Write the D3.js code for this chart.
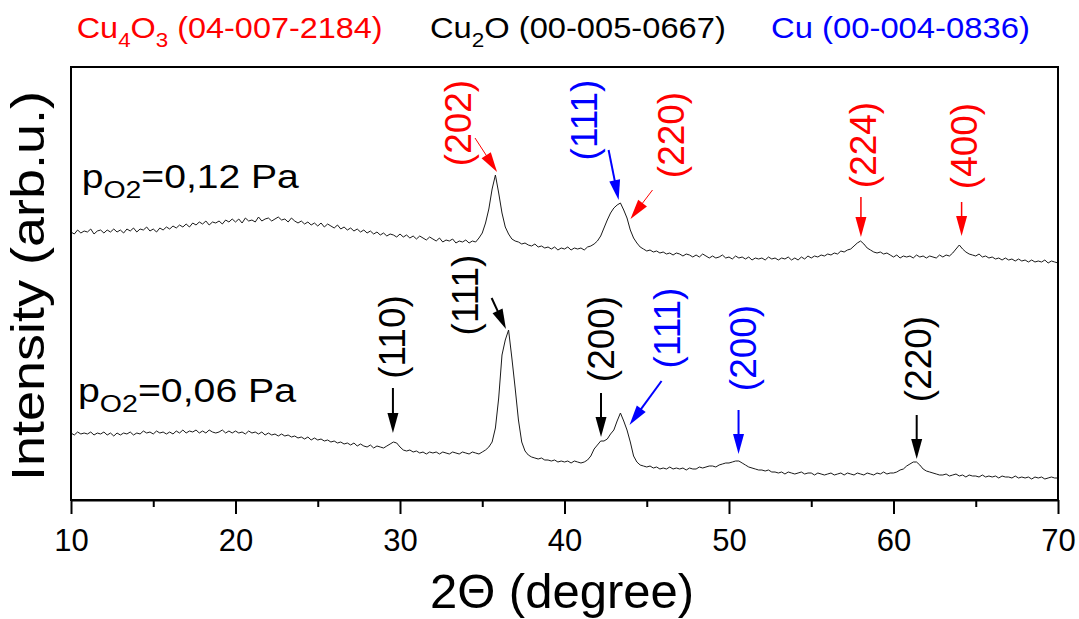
<!DOCTYPE html>
<html><head><meta charset="utf-8">
<script src="https://cdn.jsdelivr.net/npm/d3@7"></script>
<style>body{margin:0;background:#fff}svg{display:block;font-family:"Liberation Sans",Arial,sans-serif}</style>
</head><body><svg id="c" width="1079" height="619"></svg>
<script>
// ---------- DATA ----------
const twoThetaStart = 10, twoThetaStep = 0.2;   // 2Θ grid of the scans (degree)
const xTicks = [10, 20, 30, 40, 50, 60, 70];
const xMinorTicks = [15, 25, 35, 45, 55, 65];

// pO2 = 0,12 Pa scan (arb. u., offset)
const intensity012 = [
268,266,270,267,269, 268,271,266,269,270, 267,270,268,271,268, 270,267,271,269,272,
268,271,270,273,269, 271,268,272,270,273, 271,274,272,275,273, 276,273,277,275,278,
276,279,275,278,277, 279,276,280,278,281, 278,281,277,282,279, 280,278,283,279,281,
282,279,281,283,280, 281,278,282,279,277, 279,276,278,275,277, 274,277,273,276,274,
272,275,271,273,270, 272,269,271,268,270, 267,269,266,268,265, 267,264,266,265,263,
266,263,265,262,264, 261,264,262,260,263, 261,259,262,258,260, 259,261,257,259,258,
260,257,259,258,262, 267,277,291,311,325, 307,287,273,266,261, 259,258,256,257,255,
254,256,253,254,252, 253,251,253,250,252, 251,253,250,252,251, 252,250,253,254,256,
259,264,272,280,287, 292,295,297,290,282, 270,262,257,253,251, 249,250,248,249,247,
248,246,247,245,247, 246,244,246,245,243, 245,243,246,244,242, 244,242,243,245,242,
243,241,244,242,243, 241,243,240,242,241, 242,240,243,241,242, 240,242,241,243,240,
242,240,243,241,244, 242,244,243,245,244, 246,245,247,246,249, 248,250,251,254,257,
259,256,252,250,248, 247,248,246,247,245, 243,245,242,244,243, 244,242,245,243,244,
242,244,243,242,245, 243,245,244,247,251, 255,251,248,246,245, 244,246,243,244,242,
243,241,242,240,242, 240,241,239,241,239, 240,238,240,238,239, 238,240,237,239,238,
237];

// pO2 = 0,06 Pa scan (arb. u.)
const intensity006 = [
67,65,68,66,67, 66,68,65,67,66, 68,65,67,64,67, 65,67,66,68,65,
67,66,69,67,68, 66,69,67,68,66, 68,66,69,67,70, 67,69,68,70,67,
69,67,70,68,67, 68,70,67,69,67, 69,67,68,66,69, 67,68,66,68,65,
67,65,66,64,66, 64,65,63,64,62, 63,61,63,60,62, 60,61,59,60,58,
59,57,58,56,57, 55,57,54,56,54, 53,55,52,54,53, 52,54,56,58,57,
53,50,49,50,48, 49,47,48,46,48, 47,48,46,48,47, 46,48,47,46,48,
47,46,48,47,46, 48,50,53,58,72, 102,145,160,170,142, 112,80,58,49,45,
43,42,41,42,40, 40,39,40,38,39, 38,39,37,39,38, 37,38,40,44,51,
55,59,59,61,66, 70,79,87,79,70, 58,44,38,35,34, 33,34,32,33,31,
32,31,33,31,32, 31,32,30,32,31, 31,33,32,33,34, 34,33,35,36,37,
37,38,39,39,37, 35,33,32,31,30, 30,29,30,28,28, 27,28,26,28,27,
26,27,28,26,27, 27,25,27,26,25, 26,27,25,26,27, 25,27,26,25,27,
26,25,27,26,25, 27,26,28,26,27, 27,28,30,31,34, 36,38,38,35,31,
29,28,27,26,25, 25,26,24,25,26, 24,25,23,25,24, 24,23,25,23,24,
23,24,22,24,23, 23,22,24,22,23, 22,23,21,23,22, 23,21,22,23,22,
22];

const samplePressures = ["0,12 Pa", "0,06 Pa"];
const phases = ["Cu4O3", "Cu2O", "Cu"];
const phaseCards = ["(04-007-2184)", "(00-005-0667)", "(00-004-0836)"];

// peak annotations: hkl, phase, peak 2Θ
const peakHkl   = ["(202)", "(111)", "(220)", "(224)", "(400)", "(110)", "(111)", "(200)", "(111)", "(200)", "(220)"];
const peakPhase = ["Cu4O3", "Cu", "Cu4O3", "Cu4O3", "Cu4O3", "Cu2O", "Cu2O", "Cu2O", "Cu", "Cu", "Cu2O"];

// ---------- LAYOUT / STYLE ----------
const phaseColor = {Cu4O3: "#ff0000", Cu2O: "#000000", Cu: "#0000ff"};
// label centre [2Θ, I], arrow tail [2Θ, I], arrow tip [2Θ, I], arrow width
const annLayout = [
  {t: [33.53, 377], a: [34.56, 362], b: [35.9, 328], w: 1},
  {t: [41.19, 380], a: [42.68, 350], b: [43.29, 300], w: 2},
  {t: [46.52, 365], a: [45.35, 310], b: [44.01, 281], w: 1},
  {t: [58.2, 355],  a: [58.02, 303], b: [58.02, 263], w: 1.5},
  {t: [64.29, 354], a: [64.14, 298], b: [64.14, 264], w: 1.5},
  {t: [29.57, 163], a: [29.57, 112], b: [29.57, 67], w: 2},
  {t: [34.01, 205], a: [35.57, 202], b: [36.44, 171], w: 2},
  {t: [42.22, 161], a: [42.22, 107], b: [42.22, 63], w: 2},
  {t: [46.29, 172], a: [45.9, 119],  b: [43.95, 75], w: 2},
  {t: [50.91, 152], a: [50.58, 90],  b: [50.58, 46], w: 2},
  {t: [61.49, 141], a: [61.41, 85],  b: [61.41, 41], w: 2}
];

const m = {l: 71, r: 1058, t: 67, b: 500};
const x = d3.scaleLinear().domain([10, 70]).range([m.l, m.r]);
const y = d3.scaleLinear().domain([0, 433]).range([m.b, m.t]);
const svg = d3.select("#c");

// curves
const line = d3.line().x(d => x(d[0])).y(d => y(d[1]));
[intensity012, intensity006].forEach(arr => {
  const pts = arr.map((v, i) => [twoThetaStart + i * twoThetaStep, v]);
  svg.append("path").attr("d", line(pts)).attr("fill", "none")
    .attr("stroke", "#1a1a1a").attr("stroke-width", 1).attr("stroke-linejoin", "round");
});

// frame
svg.append("rect").attr("x", m.l).attr("y", m.t).attr("width", m.r - m.l).attr("height", m.b - m.t)
  .attr("fill", "none").attr("stroke", "#000").attr("stroke-width", 2);

// axis
const ax = svg.append("g").attr("transform", `translate(0,${m.b})`)
  .call(d3.axisBottom(x).tickValues(xTicks).tickSize(14).tickPadding(15).tickSizeOuter(0));
ax.select(".domain").attr("stroke-width", 2);
ax.selectAll(".tick line").attr("stroke-width", 2);
ax.selectAll(".tick text").attr("font-size", 31).attr("font-family", "Liberation Sans, Arial, sans-serif").attr("fill", "#000");
const axm = svg.append("g").attr("transform", `translate(0,${m.b})`)
  .call(d3.axisBottom(x).tickValues(xMinorTicks).tickSize(7).tickFormat(""));
axm.select(".domain").remove();
axm.selectAll(".tick line").attr("stroke-width", 2);

// axis titles
svg.append("text").attr("x", 562).attr("y", 608).attr("text-anchor", "middle")
  .attr("font-size", 49).text("2Θ (degree)");
svg.append("text").attr("transform", "translate(44,286) rotate(-90)").attr("text-anchor", "middle")
  .attr("font-size", 46).attr("textLength", 390).attr("lengthAdjust", "spacingAndGlyphs")
  .text("Intensity (arb.u.)");

// helper: fit a text group horizontally
function fit(sel, left, width) {
  const bb = sel.node().getBBox();
  const k = width / bb.width;
  sel.attr("transform", `translate(${left},0) scale(${k},1) translate(${-bb.x},0)`);
}

// header legend
const headerLeft = [76.7, 430, 771], headerWidth = [306, 296, 259];
phases.forEach((p, i) => {
  const t = svg.append("text").attr("y", 38).attr("font-size", 29).attr("fill", phaseColor[p]);
  const m2 = p.match(/^([A-Za-z]+)(\d)?([A-Za-z]+)?(\d)?$/);
  t.append("tspan").text(m2[1]);
  if (m2[2]) t.append("tspan").attr("font-size", 20).attr("dy", 9).text(m2[2]);
  if (m2[3]) t.append("tspan").attr("dy", m2[2] ? -9 : 0).text(m2[3]);
  if (m2[4]) t.append("tspan").attr("font-size", 20).attr("dy", 9).text(m2[4]);
  t.append("tspan").attr("dy", m2[4] ? -9 : 0).text(" " + phaseCards[i]);
  fit(t, headerLeft[i], headerWidth[i]);
});

// sample labels
const sampleBase = [188, 402], sampleLeft = [81.7, 78], sampleWidth = [218, 219];
samplePressures.forEach((s, i) => {
  const t = svg.append("text").attr("y", sampleBase[i]).attr("font-size", 33).attr("fill", "#000");
  t.append("tspan").text("p");
  t.append("tspan").attr("font-size", 24).attr("dy", 10).text("O2");
  t.append("tspan").attr("dy", -10).text("=" + s);
  fit(t, sampleLeft[i], sampleWidth[i]);
});

// annotations
function arrow(x1, y1, x2, y2, color, w) {
  const dx = x2 - x1, dy = y2 - y1, L = Math.hypot(dx, dy), ux = dx / L, uy = dy / L;
  const hl = 20, hw = 5.5;
  const bx = x2 - ux * hl, by = y2 - uy * hl;
  svg.append("line").attr("x1", x1).attr("y1", y1).attr("x2", bx + ux * 2).attr("y2", by + uy * 2)
    .attr("stroke", color).attr("stroke-width", w);
  svg.append("polygon").attr("points",
    [[x2, y2], [bx - uy * hw, by + ux * hw], [bx + uy * hw, by - ux * hw]].map(p => p.join(",")).join(" "))
    .attr("fill", color);
}
peakHkl.forEach((h, i) => {
  const L = annLayout[i], c = phaseColor[peakPhase[i]];
  svg.append("text").attr("transform", `translate(${x(L.t[0])},${y(L.t[1])}) rotate(-90)`)
    .attr("text-anchor", "middle").attr("dominant-baseline", "central")
    .attr("font-size", 37).attr("fill", c).text(h);
  arrow(x(L.a[0]), y(L.a[1]), x(L.b[0]), y(L.b[1]), c, L.w);
});
</script></body></html>
